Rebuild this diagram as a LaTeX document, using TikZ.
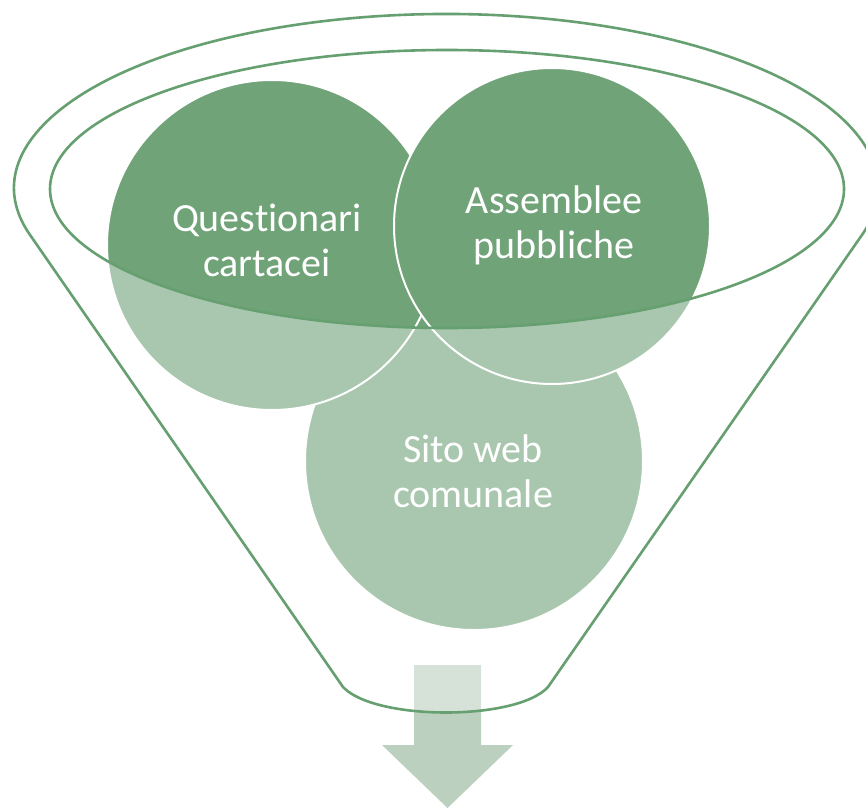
\documentclass[tikz,border=0pt]{standalone}
\usepackage{fontspec}
\setmainfont{Carlito}[Ligatures=NoCommon]
\definecolor{dkgreen}{HTML}{70A378}
\definecolor{lngreen}{HTML}{67A070}
\definecolor{arrowgreen}{HTML}{BBD0BF}
\tikzset{
  bubble/.style={circle, fill=dkgreen, draw=white, line width=2pt, inner sep=0pt},
  bubbletext/.style={text=white, align=center, font=\fontsize{40}{45}\selectfont, inner sep=0pt},
  rim/.style={draw=lngreen, line width=2.6pt},
}
\begin{document}
\begin{tikzpicture}[x=1pt,y=-1pt]
\useasboundingbox (0,0) rectangle (866,808);
% arrow
\fill[arrowgreen] (414,665) -- (481,665) -- (481,745) -- (513,745) -- (447.5,808) -- (382,745) -- (414,745) -- cycle;
% circles
\node[bubble, minimum size=338pt] (sito) at (474,461) {};
\node[bubble, minimum size=330pt] (quest) at (272,245) {};
\node[bubble, minimum size=316pt] (assem) at (552,226) {};
% white translucent funnel body (inner opening left clear)
\fill[white, fill opacity=0.4, even odd rule]
  (446,188) ++(164.42:432 and 174) arc[start angle=164.42, end angle=375.58, x radius=432, y radius=174]
  -- (548,687) .. controls (517,721) and (375,721) .. (343,687) -- cycle
  (447,189) ellipse [x radius=397, y radius=139];
% outlines
\draw[rim, line join=round]
  (446,188) ++(164.42:432 and 174) coordinate (tl) arc[start angle=164.42, end angle=375.58, x radius=432, y radius=174] coordinate (tr)
  -- (548,687) coordinate (br) .. controls (517,721) and (375,721) .. (343,687) coordinate (bl) -- cycle;
\draw[rim] (447,189) ellipse [x radius=397, y radius=139];
% texts
\node[bubbletext] (tq) at (267,240) {Questionari\\cartacei};
\node[bubbletext] (ta) at (554,225) {Assemblee\\pubbliche};
\node[bubbletext] (ts) at (473,471) {Sito web\\comunale};
\end{tikzpicture}
\end{document}
